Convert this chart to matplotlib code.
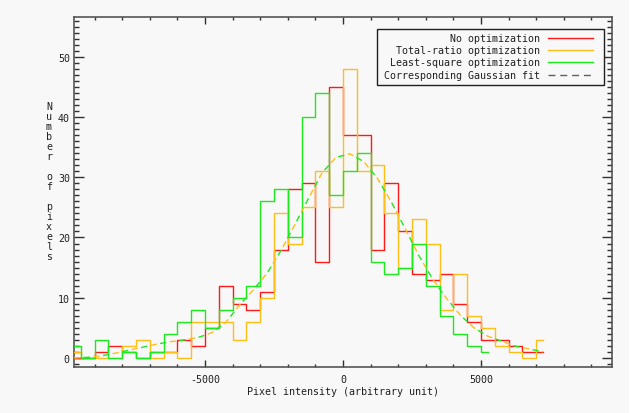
import numpy as np
import matplotlib
matplotlib.use("Agg")
import matplotlib.pyplot as plt
from matplotlib.ticker import MultipleLocator
from matplotlib.patches import Rectangle

plt.rcParams['font.family'] = ['DejaVu Sans Mono']
plt.rcParams['axes.unicode_minus'] = False

# ---------------- data ----------------
# histogram bin centres (bin width 500, first centre -9750)
centers = np.arange(-9750, 7251, 500)

no_opt = [0, 0, 1, 2, 1, 0, 1, 1, 3, 2, 5, 12, 9, 8, 11, 18, 28, 29, 16, 45,
          37, 37, 18, 29, 21, 14, 13, 14, 9, 6, 3, 3, 2, 1, 1]
total_ratio = [1, 0, 0, 0, 2, 3, 0, 1, 0, 6, 6, 6, 3, 6, 10, 24, 19, 25, 31, 25,
               48, 31, 32, 24, 15, 23, 19, 8, 14, 7, 5, 2, 1, 0, 3]
least_square = [2, 0, 3, 0, 1, 0, 1, 4, 6, 8, 5, 8, 10, 12, 26, 28, 20, 40, 44, 27,
                31, 34, 16, 14, 15, 19, 12, 7, 4, 2, 1]
gauss_fit = [0.0, 0.1, 0.35, 0.8, 1.3, 1.8, 2.3, 2.7, 3.0, 3.4, 4.2, 5.9, 8.8, 11.3,
             14.1, 17.8, 22.1, 26.5, 30.8, 33.3, 33.9, 32.6, 29.8, 25.9, 21.5, 17.0,
             13.1, 9.9, 7.1, 5.0, 3.6, 2.8, 1.95, 1.5, 1.0]

labels = ["No optimization", "Total-ratio optimization",
          "Least-square optimization", "Corresponding Gaussian fit"]
xlabel = "Pixel intensity (arbitrary unit)"
ylabel = "Number of pixels"

RED = '#ff1a1a'
YEL = '#ffbf1a'
GRN = '#1ee81e'
BG = '#f8f8f8'
FS = 7.2

# ---------------- figure ----------------
W, H = 636, 414
fig = plt.figure(figsize=(W / 100, H / 100), dpi=100, facecolor=BG)
fig.patches.append(Rectangle((629 / W, 0), 1 - 629 / W, 1, transform=fig.transFigure,
                             facecolor='white', edgecolor='none', zorder=-1))

ax_l, ax_r, ax_t, ax_b = 74, 612, 18, 368
ax = fig.add_axes([ax_l / W, 1 - ax_b / H, (ax_r - ax_l) / W, (ax_b - ax_t) / H])
ax.set_facecolor(BG)

n_g = len(least_square)
ax.step(centers, no_opt, where='mid', color=RED, lw=1.0, zorder=2)
ax.step(centers, total_ratio, where='mid', color=YEL, lw=1.0, zorder=3)
ax.step(centers[:n_g], least_square, where='mid', color=GRN, lw=1.0, zorder=4)
ax.plot(centers, gauss_fit, color=YEL, lw=1.0, linestyle=(0, (4.5, 9.5)), zorder=5)
ax.plot(centers, gauss_fit, color=GRN, lw=1.0, linestyle=(7, (4.5, 9.5)), zorder=5)

ax.set_xlim(-9750, 9750)
ax.set_ylim(-1.5, 56.6)
ax.xaxis.set_major_locator(MultipleLocator(5000))
ax.xaxis.set_minor_locator(MultipleLocator(1000))
ax.yaxis.set_major_locator(MultipleLocator(10))
ax.yaxis.set_minor_locator(MultipleLocator(1))
ax.tick_params(which='both', direction='in', top=True, right=True,
               color='#303030', width=1.0, labelsize=FS, labelcolor='#202020')
ax.tick_params(axis='x', which='major', length=5, pad=5)
ax.tick_params(axis='x', which='minor', length=2.5)
ax.tick_params(axis='y', which='major', length=7, pad=3)
ax.tick_params(axis='y', which='minor', length=3.5)
for s in ax.spines.values():
    s.set_color('#555555')
    s.set_linewidth(1.2)

# axis titles
fig.text(343 / W, 1 - 392 / H, xlabel, ha='center', va='center', fontsize=FS,
         color='#202020')
fig.text(49 / W, 1 - 182.5 / H, "\n".join(ylabel), ha='center', va='center',
         fontsize=FS, color='#202020', linespacing=1.0)

# ---------------- legend (drawn in axes fraction) ----------------
def fx(px):
    return (px - ax_l) / (ax_r - ax_l)

def fy(py):
    return (ax_b - py) / (ax_b - ax_t)

ax.add_patch(Rectangle((fx(377), fy(86)), fx(604) - fx(377), fy(30) - fy(86),
                       transform=ax.transAxes, facecolor=BG, edgecolor='#202020',
                       lw=1.0, zorder=6))
rows = [39, 50.7, 63.3, 75.7]
styles = [dict(color=RED, ls='-'), dict(color=YEL, ls='-'), dict(color=GRN, ls='-'),
          dict(color='#606060', ls=(0, (5, 3.5)))]
for lab, py, st in zip(labels, rows, styles):
    ax.text(fx(540), fy(py), lab, transform=ax.transAxes, ha='right', va='center',
            fontsize=FS, color='#202020', zorder=7)
    ax.plot([fx(548), fx(593)], [fy(py), fy(py)], transform=ax.transAxes,
            lw=1.0, zorder=7, **st)

fig.savefig('out.png', dpi=100, facecolor=fig.get_facecolor())
